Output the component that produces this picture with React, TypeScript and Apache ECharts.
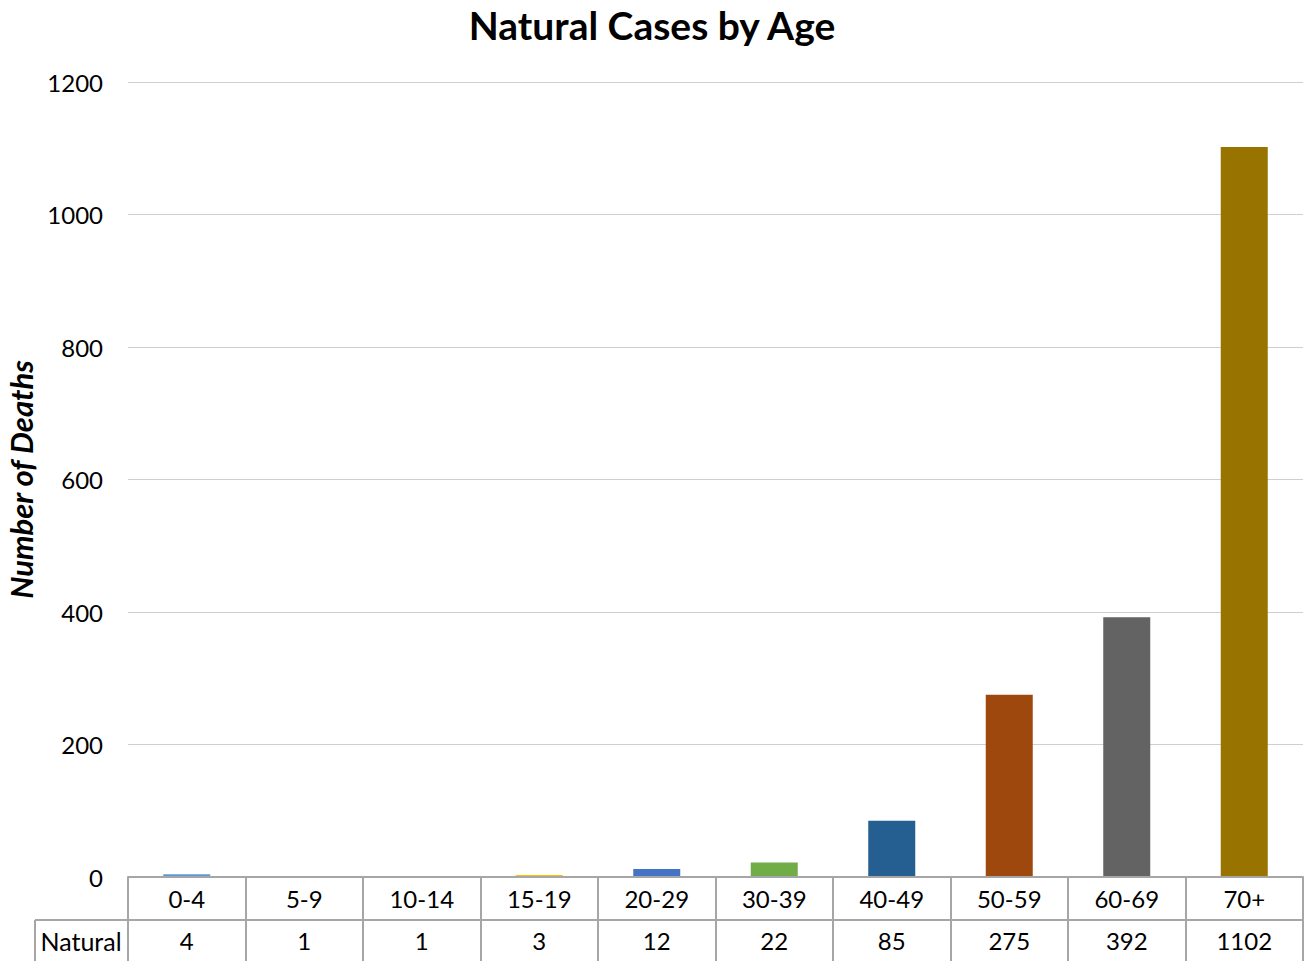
import React, { useEffect, useRef } from "react";
import * as echarts from "echarts";

const TITLE = "Natural Cases by Age";
const Y_NAME = "Number of Deaths";
const SERIES_NAME = "Natural";
const categories = ["0-4", "5-9", "10-14", "15-19", "20-29", "30-39", "40-49", "50-59", "60-69", "70+"];
const values = [4, 1, 1, 3, 12, 22, 85, 275, 392, 1102];
const barColors = ["#5B9BD5", "#ED7D31", "#A5A5A5", "#FFC000", "#4472C4", "#70AD47", "#255E91", "#9E480E", "#636363", "#997300"];

const FONT = "Lato, 'Open Sans', sans-serif";
const TABLE_LINE = "#a6a6a6";

export default function App() {
  const ref = useRef<HTMLDivElement>(null);
  useEffect(() => {
    if (!ref.current) return;
    const chart = echarts.init(ref.current, undefined, { renderer: "svg" });
    const option: any = {
      animation: false,
      backgroundColor: "#ffffff",
      textStyle: { fontFamily: FONT },
      title: {
        text: TITLE,
        left: "center",
        top: 0,
        textStyle: { fontFamily: FONT, fontSize: 39, fontWeight: "bold", color: "#000" },
      },
      grid: { left: 128, right: 1, top: 82, bottom: 84, containLabel: false, outerBoundsMode: "none" },
      xAxis: [
        {
          type: "category",
          data: categories,
          position: "bottom",
          axisLine: { show: true, lineStyle: { color: TABLE_LINE, width: 2 } },
          axisTick: { show: true, length: 43, inside: false, lineStyle: { color: TABLE_LINE, width: 2 } },
          axisLabel: { fontFamily: FONT, fontSize: 24, color: "#000", margin: 21, verticalAlign: "middle", interval: 0 },
          splitLine: { show: false },
          z: 5,
        },
        {
          type: "category",
          data: values.map((v) => String(v)),
          position: "bottom",
          offset: 43,
          axisLine: { show: true, lineStyle: { color: TABLE_LINE, width: 2 } },
          axisTick: { show: true, length: 45, inside: false, lineStyle: { color: TABLE_LINE, width: 2 } },
          axisLabel: { fontFamily: FONT, fontSize: 24, color: "#000", margin: 20, verticalAlign: "middle", interval: 0 },
          splitLine: { show: false },
        },
      ],
      yAxis: {
        type: "value",
        min: 0,
        max: 1200,
        interval: 200,
        name: Y_NAME,
        nameLocation: "middle",
        nameRotate: 90,
        nameGap: 92,
        nameTextStyle: { fontFamily: FONT, fontSize: 31, fontStyle: "italic", fontWeight: "bold", color: "#000" },
        axisLine: { show: false },
        axisTick: { show: false },
        axisLabel: { fontFamily: FONT, fontSize: 24, color: "#000", margin: 25, formatter: (v: number) => String(v) },
        splitLine: { show: true, lineStyle: { color: "#cfcfcf", width: 1 } },
      },
      graphic: [
        { type: "line", shape: { x1: 35, y1: 920, x2: 128, y2: 920 }, style: { stroke: TABLE_LINE, lineWidth: 2 } },
        { type: "line", shape: { x1: 35, y1: 920, x2: 35, y2: 965 }, style: { stroke: TABLE_LINE, lineWidth: 2 } },
        {
          type: "text",
          x: 81,
          y: 941,
          style: { text: SERIES_NAME, fontFamily: FONT, fontSize: 25, fill: "#000", align: "center", verticalAlign: "middle" },
        },
      ],
      series: [
        {
          name: SERIES_NAME,
          type: "bar",
          xAxisIndex: 0,
          barWidth: "40%",
          data: values.map((v, i) => ({ value: v, itemStyle: { color: barColors[i] } })),
        },
      ],
    };
    chart.setOption(option);
    return () => chart.dispose();
  }, []);
  return <div ref={ref} style={{ position: "fixed", left: 0, top: 0, width: 1304, height: 961, background: "#fff" }} />;
}
